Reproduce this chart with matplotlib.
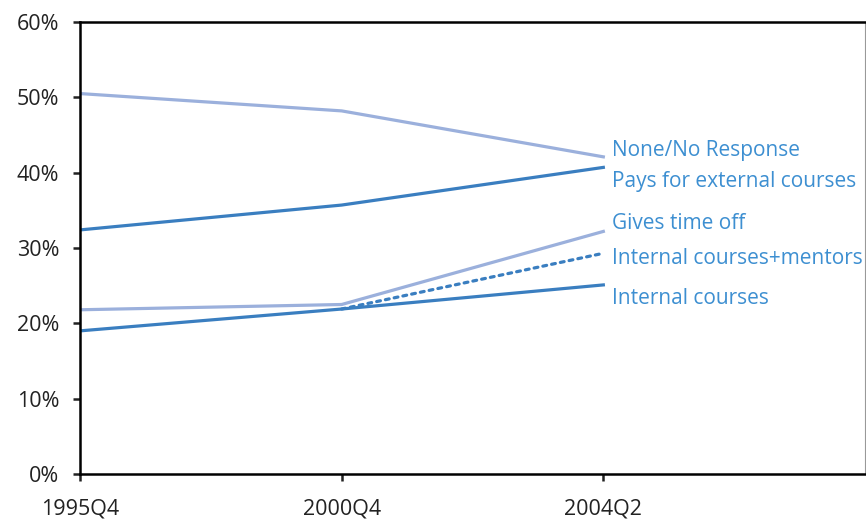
import matplotlib
matplotlib.use("Agg")
import matplotlib.pyplot as plt
from matplotlib.ticker import FuncFormatter

plt.rcParams['font.family'] = ['Open Sans', 'DejaVu Sans']

categories = ["1995Q4", "2000Q4", "2004Q2"]
none_resp = [50.5, 48.2, 42.1]
pays_ext = [32.4, 35.7, 40.7]
time_off = [21.8, 22.5, 32.2]
int_mentors = [None, 21.9, 29.3]
int_courses = [19.0, 21.9, 25.1]
labels = ["None/No Response", "Pays for external courses", "Gives time off",
          "Internal courses+mentors", "Internal courses"]
label_y = [42.9, 38.8, 33.2, 28.6, 23.3]

light = "#9BB0DC"
dark = "#3A7EC0"
text_c = "#3D8FD1"

fig = plt.figure(figsize=(8.66, 5.24), dpi=100)
ax = fig.add_axes([80/866, 50/524, 785/866, 452/524])
x = list(range(len(categories)))

ax.plot(x, none_resp, color=light, lw=2.3)
ax.plot(x, pays_ext, color=dark, lw=2.3)
ax.plot(x, time_off, color=light, lw=2.3)
xm = [xi for xi, v in zip(x, int_mentors) if v is not None]
vm = [v for v in int_mentors if v is not None]
ax.plot(xm, vm, color=dark, lw=2.3, ls=(0, (1.2, 1.6)), dash_capstyle='round')
ax.plot(x, int_courses, color=dark, lw=2.3)

for lab, ly in zip(labels, label_y):
    ax.text(2.035, ly, lab, color=text_c, fontsize=15, va='center', ha='left')

ax.set_xlim(0, 3)
ax.set_ylim(0, 60)
ax.set_xticks(x)
ax.set_xticklabels(categories)
ax.set_yticks(range(0, 61, 10))
ax.yaxis.set_major_formatter(FuncFormatter(lambda v, p: f"{int(v)}%"))
ax.tick_params(axis='both', labelsize=15.5, length=5, width=1.8, direction='out', colors='#222222')
ax.tick_params(axis='x', pad=13)
ax.tick_params(axis='y', pad=10)
for s in ['left', 'bottom', 'top']:
    ax.spines[s].set_linewidth(1.8)
    ax.spines[s].set_color('black')
ax.spines['right'].set_linewidth(0.8)
ax.spines['right'].set_color('#999999')

fig.savefig("out.png", dpi=100)
